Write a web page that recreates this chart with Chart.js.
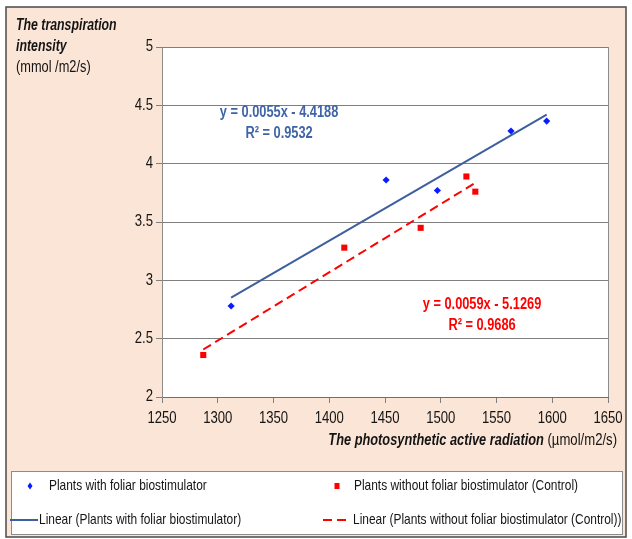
<!DOCTYPE html>
<html>
<head>
<meta charset="utf-8">
<script src="https://cdn.jsdelivr.net/npm/chart.js@4"></script>
<style>
  html, body { margin: 0; padding: 0; background: #ffffff; }
  #wrap { position: relative; width: 632px; height: 539px; }
</style>
</head>
<body>
<div id="wrap"><canvas id="chart" width="632" height="539"></canvas></div>
<script>
// Photosynthetic active radiation (µmol/m2/s) and transpiration intensity (mmol/m2/s)
const withBioX = [1312, 1451, 1497, 1563, 1595];
const withBioY = [2.78, 3.86, 3.77, 4.28, 4.365];
const controlX = [1287, 1413.5, 1482, 1523, 1531];
const controlY = [2.36, 3.28, 3.45, 3.89, 3.76];

// Linear trend coefficients (slope, intercept) and coefficient of determination
const withBioFit = [0.005542, -4.4188];
const withBioR2 = 0.9532;
const controlFit = [0.005854, -5.1269];
const controlR2 = 0.9686;

const xTicks = [1250, 1300, 1350, 1400, 1450, 1500, 1550, 1600, 1650];
const yTicks = [2, 2.5, 3, 3.5, 4, 4.5, 5];

const seriesNames = [
  'Plants with foliar biostimulator',
  'Plants without foliar biostimulator (Control)',
  'Linear (Plants with foliar biostimulator)',
  'Linear (Plants without foliar biostimulator (Control))'
];

const FONT = '"Liberation Sans", Arial, sans-serif';
const NARROW = 0.82;           // horizontal squeeze for a narrow sans face
const PEACH = '#fbe5d6';
const INK = '#141414';
const BLUE_LINE = '#3d5f9f';
const BLUE_TEXT = '#4064a6';

function pts(xs, ys) { return xs.map((x, i) => ({ x: x, y: ys[i] })); }
function trend(xs, fit) {
  const lo = Math.min(...xs), hi = Math.max(...xs);
  return [lo, hi].map(x => ({ x: x, y: fit[0] * x + fit[1] }));
}
function eqText(fit) {
  const s = fit[1] < 0 ? ' - ' : ' + ';
  return 'y = ' + fit[0].toFixed(4) + 'x' + s + Math.abs(fit[1]).toFixed(4);
}

// condensed text: draws with a horizontal squeeze, returns drawn width
function say(c, text, x, y, font, color, align, squeeze) {
  const k = squeeze || NARROW;
  c.save();
  c.font = font;
  c.fillStyle = color;
  c.textAlign = align || 'left';
  c.textBaseline = 'middle';
  c.translate(x, y);
  c.scale(k, 1);
  c.fillText(text, 0, 0);
  const w = c.measureText(text).width * k;
  c.restore();
  return w;
}
function widthOf(c, text, font, squeeze) {
  c.save(); c.font = font;
  const w = c.measureText(text).width * (squeeze || NARROW);
  c.restore();
  return w;
}

// Frame, plot background, tick labels, axis titles, equations and legend
const decor = {
  id: 'decor',
  beforeDraw(chart) {
    const c = chart.ctx, a = chart.chartArea;
    c.save();
    c.fillStyle = '#ffffff';
    c.fillRect(0, 0, chart.width, chart.height);
    c.fillStyle = PEACH;
    c.fillRect(6, 7, 620, 530);
    c.strokeStyle = '#4a4a4a';
    c.lineWidth = 1.5;
    c.strokeRect(6, 7, 620, 530);
    c.fillStyle = '#ffffff';
    c.fillRect(a.left, a.top, a.right - a.left, a.bottom - a.top);
    c.restore();
  },
  afterDraw(chart) {
    const c = chart.ctx, a = chart.chartArea;
    const xs = chart.scales.x, ys = chart.scales.y;
    c.save();
    // right edge of the plot
    c.strokeStyle = '#8c8c8c';
    c.lineWidth = 1;
    c.beginPath();
    c.moveTo(a.right + 0.5, a.top);
    c.lineTo(a.right + 0.5, a.bottom);
    c.stroke();
    c.restore();

    const tickFont = '16px ' + FONT;
    xTicks.forEach(v => say(c, String(v), xs.getPixelForValue(v), a.bottom + 22, tickFont, INK, 'center'));
    yTicks.forEach(v => say(c, String(v), a.left - 9, ys.getPixelForValue(v), tickFont, INK, 'right'));

    // y axis title
    const titleFont = 'italic bold 16px ' + FONT;
    say(c, 'The transpiration', 16, 26, titleFont, INK, 'left', 0.77);
    say(c, 'intensity', 16, 47, titleFont, INK, 'left', 0.77);
    say(c, '(mmol /m2/s)', 16, 68, '16px ' + FONT, INK, 'left', 0.8);

    // x axis title (bold italic part + unit), right aligned
    const unit = ' (µmol/m2/s)';
    const uw = widthOf(c, unit, '16px ' + FONT);
    say(c, unit, 617, 441, '16px ' + FONT, INK, 'right');
    say(c, 'The photosynthetic active radiation', 617 - uw, 441, titleFont, INK, 'right', 0.8);

    // regression equations
    const eqFont = 'bold 16px ' + FONT;
    let px = xs.getPixelForValue(1355);
    say(c, eqText(withBioFit), px, ys.getPixelForValue(4.44), eqFont, BLUE_TEXT, 'center', 0.8);
    say(c, 'R² = ' + withBioR2.toFixed(4), px, ys.getPixelForValue(4.26), eqFont, BLUE_TEXT, 'center', 0.8);
    px = xs.getPixelForValue(1537);
    say(c, eqText(controlFit), px, ys.getPixelForValue(2.79), eqFont, '#ff0000', 'center', 0.8);
    say(c, 'R² = ' + controlR2.toFixed(4), px, ys.getPixelForValue(2.61), eqFont, '#ff0000', 'center', 0.8);

    // legend box
    c.save();
    c.fillStyle = '#ffffff';
    c.fillRect(11, 471, 611, 63);
    c.strokeStyle = '#8c8c8c';
    c.lineWidth = 1;
    c.strokeRect(11.5, 471.5, 611, 63);

    const ds = chart.data.datasets;
    const r1 = 486, r2 = 520;
    c.fillStyle = ds[0].pointBackgroundColor;
    c.beginPath();
    c.moveTo(30, r1 - 3.5); c.lineTo(32.5, r1); c.lineTo(30, r1 + 3.5); c.lineTo(27.5, r1);
    c.closePath(); c.fill();
    c.fillStyle = ds[1].pointBackgroundColor;
    c.fillRect(334.5, r1 - 3, 5, 6);
    c.strokeStyle = ds[2].borderColor;
    c.lineWidth = 2;
    c.beginPath(); c.moveTo(10, r2); c.lineTo(38, r2); c.stroke();
    c.strokeStyle = ds[3].borderColor;
    c.setLineDash(ds[3].borderDash);
    c.beginPath(); c.moveTo(323, r2); c.lineTo(351, r2); c.stroke();
    c.setLineDash([]);
    c.restore();

    const legFont = '15px ' + FONT;
    const lk = 0.795;
    say(c, ds[0].label, 49, r1, legFont, INK, 'left', lk);
    say(c, ds[1].label, 354, r1, legFont, INK, 'left', lk);
    say(c, ds[2].label, 39, r2, legFont, INK, 'left', lk);
    say(c, ds[3].label, 353, r2, legFont, INK, 'left', lk);
  }
};

new Chart(document.getElementById('chart'), {
  type: 'scatter',
  data: {
    datasets: [
      {
        label: seriesNames[0], data: pts(withBioX, withBioY),
        pointStyle: 'rectRot', pointRadius: 3.6,
        pointBackgroundColor: '#0a1cff', pointBorderColor: '#0a1cff', pointBorderWidth: 0, order: 1
      },
      {
        label: seriesNames[1], data: pts(controlX, controlY),
        pointStyle: 'rect', pointRadius: 4.3,
        pointBackgroundColor: '#ff0000', pointBorderColor: '#ff0000', pointBorderWidth: 0, order: 1
      },
      {
        type: 'line', label: seriesNames[2], data: trend(withBioX, withBioFit),
        borderColor: BLUE_LINE, borderWidth: 2, pointRadius: 0, fill: false, order: 2
      },
      {
        type: 'line', label: seriesNames[3], data: trend(controlX, controlFit),
        borderColor: '#ff0000', borderWidth: 2, borderDash: [9, 5], pointRadius: 0, fill: false, order: 2
      }
    ]
  },
  options: {
    responsive: false,
    animation: false,
    events: [],
    layout: { padding: { top: 47, right: 24, left: 0, bottom: 0 } },
    plugins: { legend: { display: false }, tooltip: { enabled: false } },
    scales: {
      x: {
        type: 'linear', min: xTicks[0], max: xTicks[xTicks.length - 1],
        afterBuildTicks: s => { s.ticks = xTicks.map(v => ({ value: v })); },
        afterFit: s => { s.height = 539 - 397; },
        grid: { drawOnChartArea: false, drawTicks: true, tickLength: 6, color: '#7f7f7f' },
        border: { color: '#6f6f6f', width: 1 },
        ticks: { display: false }
      },
      y: {
        type: 'linear', min: yTicks[0], max: yTicks[yTicks.length - 1],
        afterBuildTicks: s => { s.ticks = yTicks.map(v => ({ value: v })); },
        afterFit: s => { s.width = 162; },
        grid: { drawOnChartArea: true, drawTicks: true, tickLength: 6, color: '#7f7f7f' },
        border: { color: '#8c8c8c', width: 1 },
        ticks: { display: false }
      }
    }
  },
  plugins: [decor]
});
</script>
</body>
</html>
